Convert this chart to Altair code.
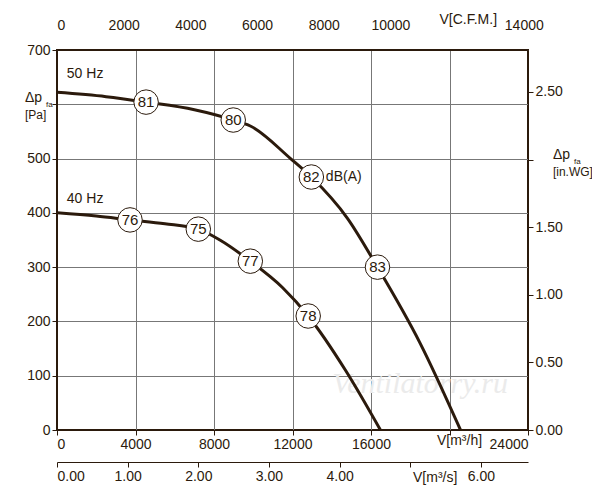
import altair as alt
import pandas as pd

# curve points (m3/h, Pa)
q50 = [0, 2500, 4540, 7000, 8980, 9850, 11900, 12960, 14800, 16330, 18500, 20560]
p50 = [622, 614, 604, 590, 571, 560, 500, 466, 390, 300, 160, 0]
q40 = [0, 2000, 3720, 5500, 7200, 8300, 9850, 11500, 12800, 14700, 16480]
p40 = [400, 394, 387, 380, 370, 350, 311, 262, 210, 110, 0]

pts_q = [4540, 8980, 12960, 16330, 3720, 7200, 9850, 12800]
pts_p = [604, 571, 466, 300, 387, 370, 311, 210]
pts_lab = ["81", "80", "82", "83", "76", "75", "77", "78"]

font = "Liberation Sans"
ink = "#2b1a0c"
W, H = 471, 380

curves = pd.DataFrame(
    {"q": q50 + q40, "p": p50 + p40, "f": ["50"] * len(q50) + ["40"] * len(q40)}
)
pts = pd.DataFrame({"q": pts_q, "p": pts_p, "lab": pts_lab})

xs = alt.Scale(domain=[0, 24000], nice=False)
ys = alt.Scale(domain=[0, 700], nice=False)

ax = dict(labelFont=font, labelFontSize=14, labelColor=ink, domainColor=ink,
          tickColor=ink, gridColor="#777", gridWidth=1, titleFont=font)

base = alt.Chart(curves)
lines = base.mark_line(color=ink, strokeWidth=3, interpolate="monotone").encode(
    x=alt.X("q:Q", scale=xs, axis=alt.Axis(
        values=list(range(0, 24001, 4000)), title=None, tickSize=5,
        labelExpr="datum.value == 20000 ? '' : format(datum.value, 'd')", **ax)),
    y=alt.Y("p:Q", scale=ys, axis=alt.Axis(
        values=list(range(0, 701, 100)), title=None, tickSize=5,
        labelExpr="datum.value == 600 ? '' : format(datum.value, 'd')", **ax)),
    detail="f:N",
)
circ = alt.Chart(pts).mark_point(shape="circle", size=600, filled=True, fill="white",
                                 stroke=ink, strokeWidth=1, opacity=1).encode(
    x=alt.X("q:Q", scale=xs), y=alt.Y("p:Q", scale=ys))
labs = alt.Chart(pts).mark_text(font=font, fontSize=15, color=ink).encode(
    x=alt.X("q:Q", scale=xs), y=alt.Y("p:Q", scale=ys), text="lab:N")

ann = pd.DataFrame({
    "q": [500, 500, 13700],
    "p": [655, 425, 466],
    "t": ["50 Hz", "40 Hz", "dB(A)"],
})
annot = alt.Chart(ann).mark_text(font=font, fontSize=14, color=ink, align="left").encode(
    x=alt.X("q:Q", scale=xs), y=alt.Y("p:Q", scale=ys), text="t:N")

wm = alt.Chart(pd.DataFrame({"q": [18500], "p": [85], "t": ["Ventilatorry.ru"]})).mark_text(
    font="Liberation Serif", fontSize=30, fontStyle="italic", color="#ebebeb").encode(
    x=alt.X("q:Q", scale=xs), y=alt.Y("p:Q", scale=ys), text="t:N")

# outside titles
tt = pd.DataFrame({
    "x": [-1630, -1630, 25270, 25270, 19360, 19490, 18140],
    "y": [611, 580, 506, 475, -20, 755, -88],
    "t": ["Δp", "[Pa]", "Δp", "[in.WG]", "V[m³/h]", "V[C.F.M.]", "V[m³/s]"],
    "s": [14, 12, 14, 12, 14, 14, 14],
})
titles = alt.Chart(tt).mark_text(font=font, color=ink, align="left", clip=False).encode(
    x=alt.X("x:Q", scale=xs), y=alt.Y("y:Q", scale=ys), text="t:N",
    size=alt.Size("s:Q", scale=None, legend=None))
sub = pd.DataFrame({"x": [-560, 26340], "y": [598, 493], "t": ["fa", "fa"]})
subs = alt.Chart(sub).mark_text(font=font, fontSize=8, color=ink, align="left",
                                clip=False).encode(
    x=alt.X("x:Q", scale=xs), y=alt.Y("y:Q", scale=ys), text="t:N")

# secondary axes
cfm = alt.Chart(pd.DataFrame({"v": [0]})).mark_point(opacity=0).encode(
    x=alt.X("v:Q", scale=alt.Scale(domain=[0, 24000 / 1.699], nice=False),
            axis=alt.Axis(orient="top", values=list(range(0, 14001, 2000)), title=None,
                          grid=False, tickSize=0, labelPadding=18,
                          labelExpr="datum.value == 12000 ? '' : format(datum.value, 'd')",
                          **ax)))
inwg = alt.Chart(pd.DataFrame({"v": [0]})).mark_point(opacity=0).encode(
    y=alt.Y("v:Q", scale=alt.Scale(domain=[0, 700 / 249.09], nice=False),
            axis=alt.Axis(orient="right", values=[0, 0.5, 1, 1.5, 2, 2.5],
                          labelExpr="datum.value == 2 ? '' : format(datum.value, '.2f')",
                          title=None, grid=False, tickSize=5, **ax)))
ms = alt.Chart(pd.DataFrame({"v": [0]})).mark_point(opacity=0).encode(
    x=alt.X("v:Q", scale=alt.Scale(domain=[0, 24000 / 3600], nice=False),
            axis=alt.Axis(orient="bottom", offset=32, values=[0, 1, 2, 3, 4, 5, 6],
                          labelExpr="datum.value == 5 ? '' : format(datum.value, '.2f')",
                          title=None, grid=False, tickSize=5, **ax)))

main = alt.layer(wm, lines, circ, labs, annot, titles, subs)
chart = alt.layer(main, cfm, ms).resolve_scale(x="independent")
chart = alt.layer(chart, inwg).resolve_scale(y="independent").properties(
    width=W, height=H, autosize=alt.AutoSizeParams(type="none"),
    padding={"left": 49, "top": 42, "right": 64, "bottom": 62},
).configure_view(stroke=ink, strokeWidth=2)

chart.save("out.html", embed_options={"renderer": "svg", "actions": False})
